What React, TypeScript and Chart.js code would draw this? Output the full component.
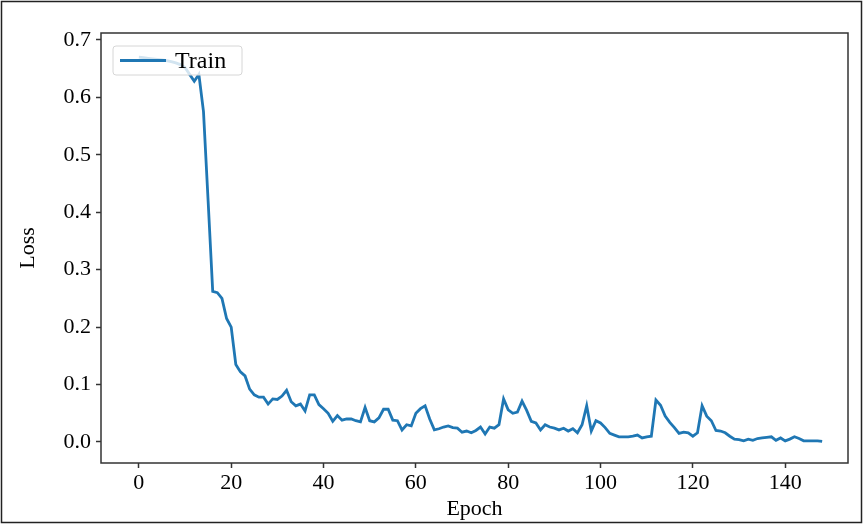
import React, { useEffect, useRef } from "react";
import { Chart, registerables } from "chart.js";

Chart.register(...registerables);

const trainLoss: number[] = [
  0.670, 0.669, 0.668, 0.667, 0.666, 0.665, 0.664, 0.662, 0.660, 0.657,
  0.652, 0.640, 0.628, 0.640, 0.575, 0.420, 0.262, 0.260, 0.250, 0.215,
  0.200, 0.135, 0.122, 0.115, 0.092, 0.082, 0.078, 0.078, 0.066, 0.075,
  0.074, 0.080, 0.090, 0.070, 0.063, 0.066, 0.054, 0.082, 0.082, 0.065,
  0.058, 0.050, 0.036, 0.046, 0.038, 0.040, 0.040, 0.037, 0.035, 0.060,
  0.037, 0.035, 0.042, 0.057, 0.057, 0.038, 0.037, 0.021, 0.030, 0.028,
  0.050, 0.058, 0.063, 0.040, 0.021, 0.023, 0.026, 0.028, 0.025, 0.024,
  0.017, 0.019, 0.016, 0.020, 0.026, 0.014, 0.026, 0.024, 0.030, 0.075,
  0.056, 0.050, 0.052, 0.071, 0.055, 0.036, 0.033, 0.021, 0.030, 0.026,
  0.024, 0.021, 0.024, 0.019, 0.023, 0.016, 0.030, 0.063, 0.019, 0.037,
  0.033, 0.025, 0.015, 0.012, 0.009, 0.009, 0.009, 0.010, 0.012, 0.007,
  0.009, 0.010, 0.073, 0.064, 0.045, 0.034, 0.025, 0.015, 0.017, 0.016,
  0.010, 0.016, 0.063, 0.045, 0.037, 0.020, 0.019, 0.016, 0.010, 0.005,
  0.004, 0.002, 0.005, 0.003, 0.006, 0.007, 0.008, 0.009, 0.003, 0.007,
  0.002, 0.005, 0.009, 0.006, 0.002, 0.002, 0.002, 0.002, 0.001,
];
const epochs: number[] = trainLoss.map((_, i) => i);
const xTickValues: number[] = [0, 20, 40, 60, 80, 100, 120, 140];
const yTickValues: number[] = [0, 0.1, 0.2, 0.3, 0.4, 0.5, 0.6, 0.7];
const seriesLabel = "Train";
const xTitle = "Epoch";
const yTitle = "Loss";

const FONT = "'Liberation Serif', 'DejaVu Serif', serif";
const SPINE = "#333333";
const LINE = "#1f77b4";

const framePlugin = {
  id: "frameAndLegend",
  afterDatasetsDraw(chart: any) {
    const { ctx, chartArea } = chart;
    const { left, top, right, bottom } = chartArea;
    ctx.save();
    ctx.strokeStyle = SPINE;
    ctx.lineWidth = 1.5;
    ctx.strokeRect(left, top, right - left, bottom - top);
    const bx = left + 12, by = top + 13, bw = 129, bh = 29;
    ctx.globalAlpha = 0.8;
    ctx.fillStyle = "#ffffff";
    ctx.beginPath();
    (ctx as any).roundRect(bx, by, bw, bh, 3);
    ctx.fill();
    ctx.globalAlpha = 1;
    ctx.strokeStyle = "#d6d6d6";
    ctx.lineWidth = 1;
    ctx.stroke();
    ctx.strokeStyle = LINE;
    ctx.lineWidth = 2.8;
    ctx.beginPath();
    ctx.moveTo(bx + 7, by + bh / 2);
    ctx.lineTo(bx + 53, by + bh / 2);
    ctx.stroke();
    ctx.fillStyle = "#000000";
    ctx.font = `24px ${FONT}`;
    ctx.textBaseline = "middle";
    ctx.textAlign = "left";
    ctx.fillText(seriesLabel, bx + 62, by + bh / 2 + 1);
    ctx.restore();
  },
  afterDraw(chart: any) {
    const { ctx, width, height } = chart;
    ctx.save();
    ctx.strokeStyle = "#222222";
    ctx.lineWidth = 1.5;
    ctx.strokeRect(1.5, 1.5, width - 3, height - 4);
    ctx.restore();
  },
};

export default function App() {
  const ref = useRef<HTMLCanvasElement | null>(null);

  useEffect(() => {
    document.body.style.margin = "0";
    const canvas = ref.current!;
    const chart = new Chart(canvas, {
      type: "line",
      data: {
        datasets: [
          {
            label: seriesLabel,
            data: epochs.map((e, i) => ({ x: e, y: trainLoss[i] })),
            borderColor: LINE,
            backgroundColor: LINE,
            borderWidth: 2.8,
            pointRadius: 0,
            tension: 0,
            fill: false,
          },
        ],
      },
      options: {
        responsive: false,
        animation: false,
        layout: { padding: { left: 0, top: 33, right: 15, bottom: 0 } },
        plugins: {
          legend: { display: false },
          tooltip: { enabled: false },
        },
        scales: {
          x: {
            type: "linear",
            min: -8.2,
            max: 153.6,
            afterBuildTicks: (scale: any) => {
              scale.ticks = xTickValues.map((v) => ({ value: v }));
            },
            afterFit: (scale: any) => {
              scale.height = 62;
            },
            border: { display: false },
            grid: {
              drawOnChartArea: false,
              drawTicks: true,
              tickLength: 5,
              tickWidth: 1.5,
              color: SPINE,
            },
            ticks: {
              padding: 2,
              color: "#000",
              font: { family: FONT, size: 22 },
              maxRotation: 0,
              autoSkip: false,
              callback: (v: any) => String(v),
            },
            title: {
              display: true,
              text: xTitle,
              color: "#000",
              font: { family: FONT, size: 22 },
              padding: { top: 0, bottom: 3 },
            },
          },
          y: {
            type: "linear",
            min: -0.0366,
            max: 0.712,
            afterBuildTicks: (scale: any) => {
              scale.ticks = yTickValues.map((v) => ({ value: v }));
            },
            afterFit: (scale: any) => {
              scale.width = 101;
            },
            border: { display: false },
            grid: {
              drawOnChartArea: false,
              drawTicks: true,
              tickLength: 5,
              tickWidth: 1.5,
              color: SPINE,
            },
            ticks: {
              padding: 5,
              color: "#000",
              font: { family: FONT, size: 22 },
              autoSkip: false,
              callback: (v: any) => Number(v).toFixed(1),
            },
            title: {
              display: true,
              text: yTitle,
              color: "#000",
              font: { family: FONT, size: 22 },
              padding: { top: 15, bottom: 0 },
            },
          },
        },
      },
      plugins: [framePlugin],
    } as any);
    return () => chart.destroy();
  }, []);

  return (
    <div style={{ width: 863, height: 525 }}>
      <canvas ref={ref} width={863} height={525} style={{ display: "block" }} />
    </div>
  );
}
